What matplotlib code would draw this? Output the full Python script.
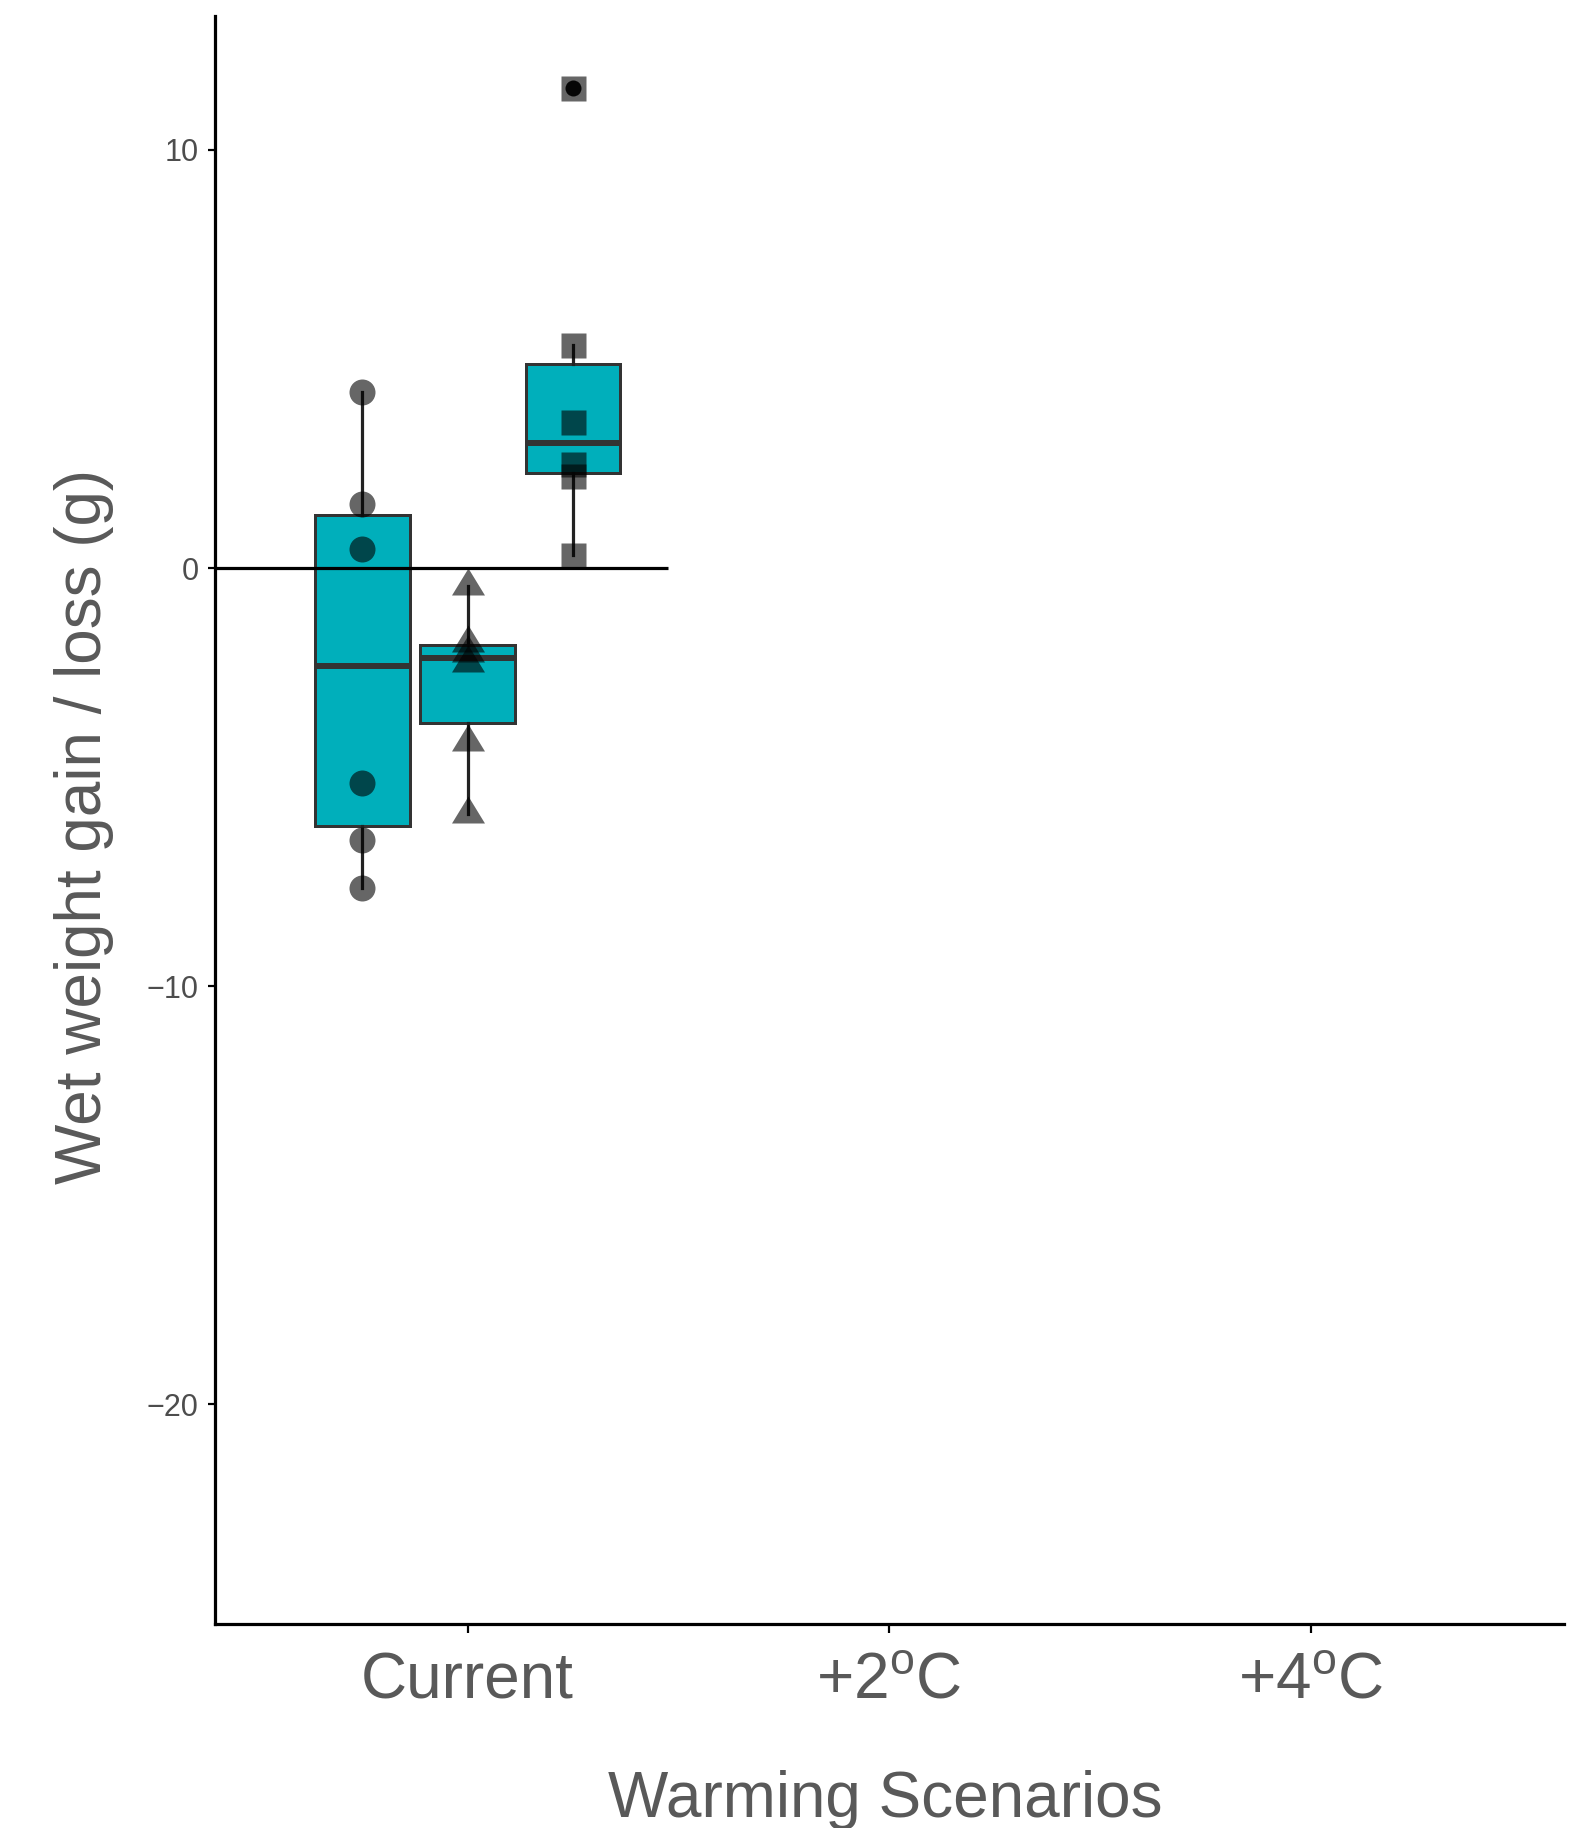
import matplotlib
matplotlib.use("Agg")
import matplotlib.pyplot as plt
import numpy as np

plt.rcParams['font.family'] = ['Liberation Sans', 'DejaVu Sans']
plt.rcParams['mathtext.fontset'] = 'custom'
plt.rcParams['mathtext.rm'] = 'Liberation Sans'
plt.rcParams['mathtext.it'] = 'Liberation Sans:italic'

# ---- data ----
categories = ["Current", r"+2$^{\mathrm{o}}$C", r"+4$^{\mathrm{o}}$C"]
group_offsets = [-0.25, 0.0, 0.25]          # dodge of the three groups within "Current"
group_circles = [4.22, 1.54, 0.46, -5.14, -6.51, -7.66]
group_triangles = [-0.44, -1.79, -2.03, -2.27, -4.17, -5.89]
group_squares = [11.47, 5.34, 3.48, 2.49, 2.19, 0.32]
y_ticks = [-20, -10, 0, 10]
hline_y = 0
hline_xmax = 1.475

W, H, DPI = 1573, 1828, 100
fig = plt.figure(figsize=(W / DPI, H / DPI), dpi=DPI)
ax = fig.add_axes([214.6 / W, 1 - 1624 / H, (1563.7 - 214.6) / W, (1624 - 16) / H])

teal = '#00AFBB'
edge = '#333333'
px = 72 / DPI  # points per pixel

groups = [group_circles, group_triangles, group_squares]
positions = [1 + o for o in group_offsets]

bp = ax.boxplot(groups, positions=positions, widths=0.225, patch_artist=True,
                whis=1.5, showcaps=False, manage_ticks=False,
                boxprops=dict(facecolor=teal, edgecolor=edge, linewidth=3 * px),
                medianprops=dict(color=edge, linewidth=6 * px, solid_capstyle='butt'),
                whiskerprops=dict(color='#222222', linewidth=3.2 * px),
                flierprops=dict(marker='o', markerfacecolor='#111111', markeredgecolor='none',
                                markersize=16 * px),
                zorder=2)

# reference line
ax.hlines(hline_y, 0.4, hline_xmax, color='black', linewidth=3.2 * px, zorder=3)

# points
tri = np.array([[0, 18], [-16.5, -9], [16.5, -9], [0, 18]])
markers = [('o', 26), (tri, 36), ('s', 25)]
for pos, vals, (mk, sz) in zip(positions, groups, markers):
    ax.plot([pos] * len(vals), vals, linestyle='none', marker=mk, markersize=sz * px,
            markerfacecolor='black', markeredgecolor='none', alpha=0.6, zorder=4)

ax.set_xlim(0.4, 3.6)
ax.set_ylim(-25.25, 13.2)
ax.set_xticks([1, 2, 3])
ax.set_xticklabels(categories)
ax.set_yticks(y_ticks)
ax.set_yticklabels([f"{v}".replace('-', '\u2212') for v in y_ticks])

for s in ['top', 'right']:
    ax.spines[s].set_visible(False)
for s in ['left', 'bottom']:
    ax.spines[s].set_linewidth(3.2 * px)
    ax.spines[s].set_color('black')

ax.tick_params(axis='x', length=9 * px, width=2.2 * px, color='black', pad=13,
               labelsize=46, labelcolor='#595959')
ax.tick_params(axis='y', length=7 * px, width=2.2 * px, color='black', pad=6.5,
               labelsize=22, labelcolor='#4D4D4D')

fig.text(885 / W, 1 - 1817 / H, "Warming Scenarios", ha='center', va='baseline',
         fontsize=46, color='#595959')
fig.text(84 / W, 1 - 826 / H, "Wet weight gain / loss (g)", ha='center', va='center',
         rotation=90, fontsize=46, color='#595959')

fig.savefig("out.png", dpi=DPI)
